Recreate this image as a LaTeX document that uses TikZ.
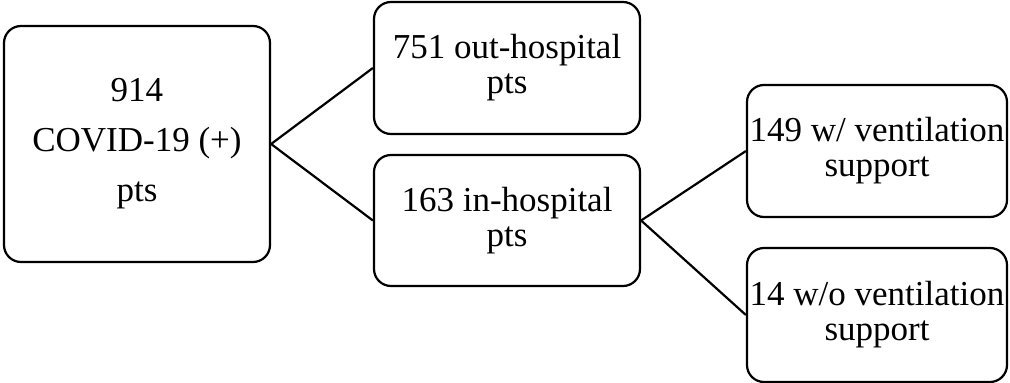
\documentclass[tikz,border=0pt]{standalone}
\usepackage{fontspec}
\setmainfont{Liberation Serif}
\begin{document}
\begin{tikzpicture}[x=1pt,y=-1pt,
  box/.style={draw, line width=2.2pt, rounded corners=17pt, align=center, inner sep=0pt,
    font=\fontsize{35}{35}\selectfont},
  link/.style={line width=2.2pt}]
\useasboundingbox (0,0) rectangle (1010,383);
\node[box, minimum width=266pt, minimum height=236pt, font=\fontsize{35}{50}\selectfont] (b1) at (137,144) {914\\COVID-19 (+)\\pts};
\node[box, minimum width=266pt, minimum height=132pt] (b2) at (507,68) {751 out-hospital\\pts};
\node[box, minimum width=266pt, minimum height=131pt] (b3) at (507,220.5) {163 in-hospital\\pts};
\node[box, minimum width=260pt, minimum height=132pt] (b4) at (877,151) {149 w/ ventilation\\support};
\node[box, minimum width=260pt, minimum height=134pt] (b5) at (877,315) {14 w/o ventilation\\support};
\draw[link] (b1.east) -- (b2.west);
\draw[link] (b1.east) -- (b3.west);
\draw[link] (b3.east) -- (b4.west);
\draw[link] (b3.east) -- (b5.west);
\end{tikzpicture}
\end{document}
